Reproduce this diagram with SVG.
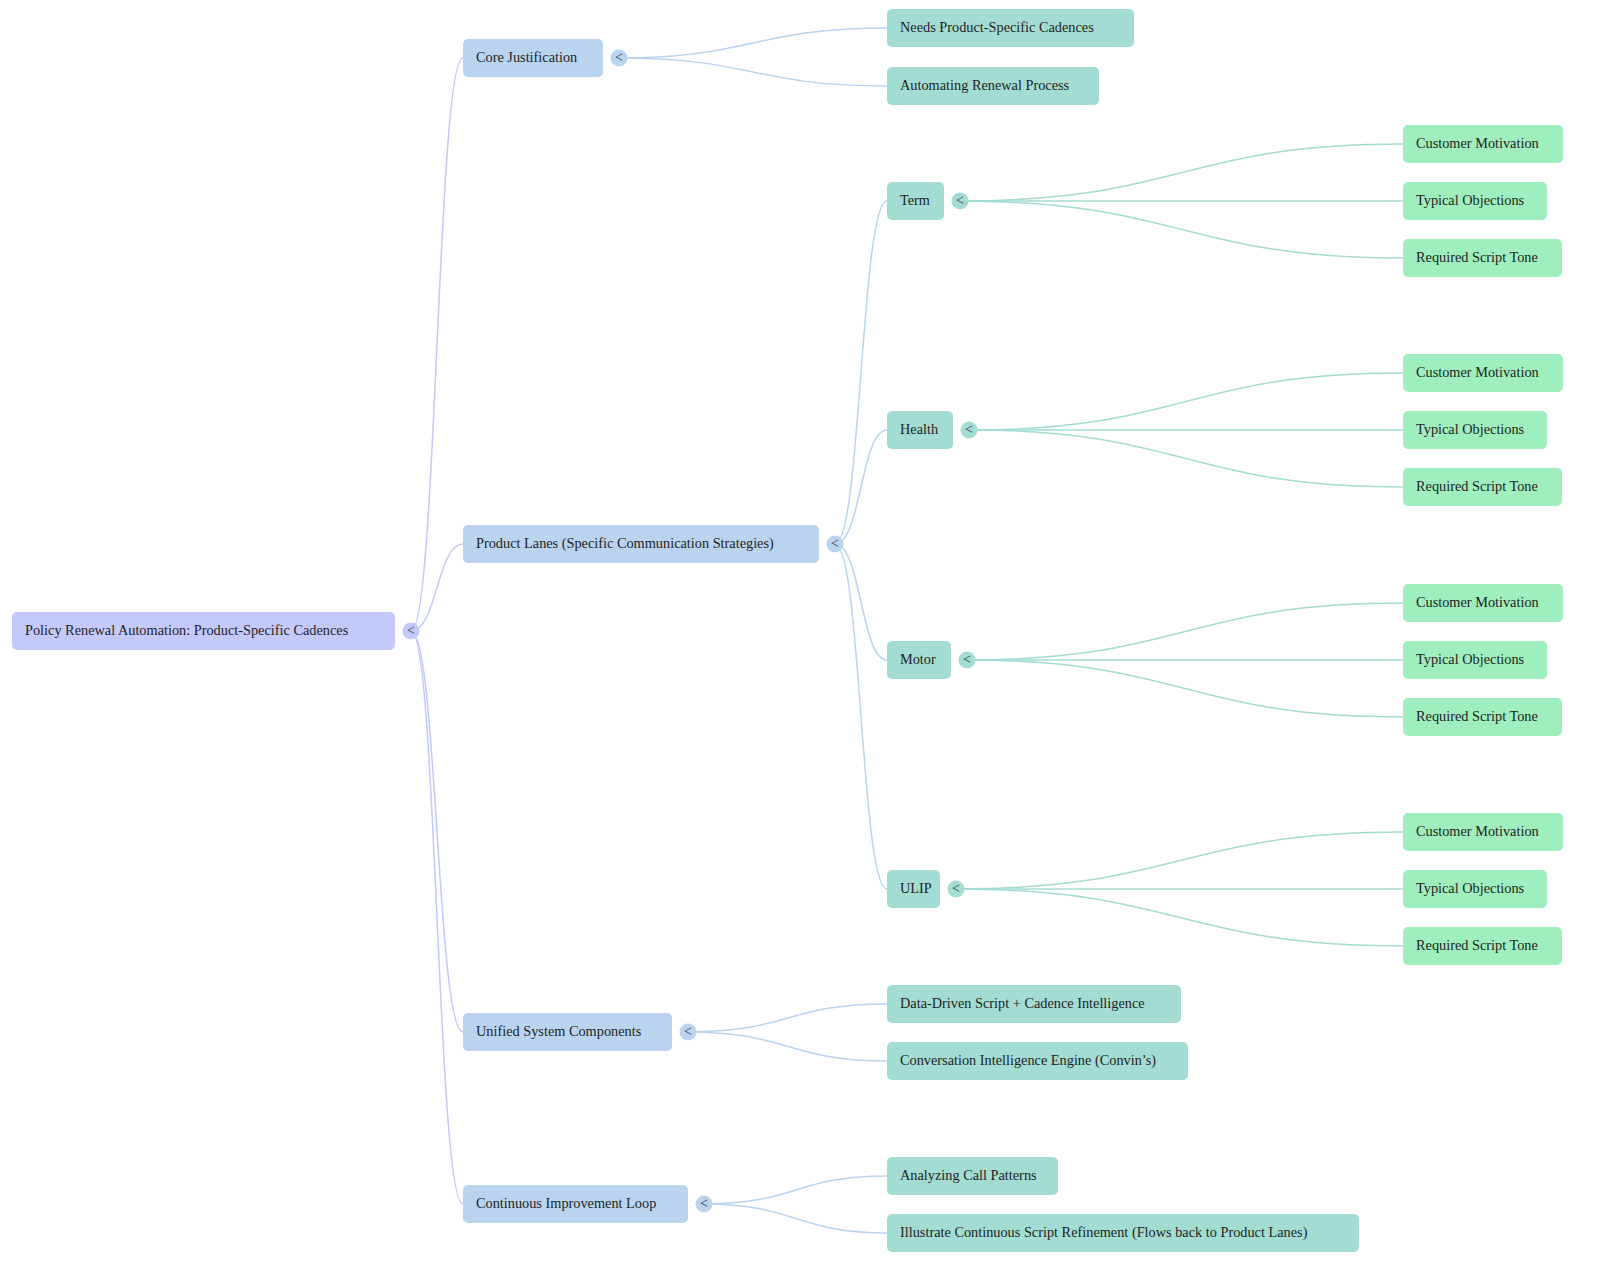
<svg xmlns="http://www.w3.org/2000/svg" width="1600" height="1262" viewBox="0 0 1600 1262">
<style>
  .t { font-family: "Liberation Serif", "Times New Roman", serif; font-size: 14.3px; fill: #1f1f1f; }
  .tg { font-family: "Liberation Serif", "Times New Roman", serif; font-size: 14px; fill: #333; text-anchor: middle; }
  .r0 { fill: #c4c9fc; }
  .r1 { fill: #bad4f0; }
  .r2 { fill: #a3dcd2; }
  .r3 { fill: #9eeebe; }
  .c0 { fill: none; stroke: #c4c9fc; stroke-width: 1.5; }
  .c1 { fill: none; stroke: #bad4f0; stroke-width: 1.5; }
  .c2 { fill: none; stroke: #a3dcd2; stroke-width: 1.5; }
</style>
<rect width="1600" height="1262" fill="#ffffff"/>

<g id="connectors">
  <path class="c0" d="M411,631 C437,631 437,58 463,58"/>
  <path class="c0" d="M411,631 C437,631 437,544 463,544"/>
  <path class="c0" d="M411,631 C437,631 437,1032 463,1032"/>
  <path class="c0" d="M411,631 C437,631 437,1204 463,1204"/>

  <path class="c1" d="M619,58 C753,58 753,28 887,28"/>
  <path class="c1" d="M619,58 C753,58 753,86 887,86"/>

  <path class="c1" d="M835,544 C861,544 861,201 887,201"/>
  <path class="c1" d="M835,544 C861,544 861,430 887,430"/>
  <path class="c1" d="M835,544 C861,544 861,660 887,660"/>
  <path class="c1" d="M835,544 C861,544 861,889 887,889"/>

  <path class="c1" d="M688,1032 C788,1032 788,1004 887,1004"/>
  <path class="c1" d="M688,1032 C788,1032 788,1061 887,1061"/>

  <path class="c1" d="M704,1204 C796,1204 796,1176 887,1176"/>
  <path class="c1" d="M704,1204 C796,1204 796,1233 887,1233"/>

  <path class="c2" d="M960,201 C1182,201 1182,144 1403,144"/>
  <path class="c2" d="M960,201 L1403,201"/>
  <path class="c2" d="M960,201 C1182,201 1182,258 1403,258"/>

  <path class="c2" d="M969,430 C1186,430 1186,373 1403,373"/>
  <path class="c2" d="M969,430 L1403,430"/>
  <path class="c2" d="M969,430 C1186,430 1186,487 1403,487"/>

  <path class="c2" d="M967,660 C1185,660 1185,603 1403,603"/>
  <path class="c2" d="M967,660 L1403,660"/>
  <path class="c2" d="M967,660 C1185,660 1185,717 1403,717"/>

  <path class="c2" d="M956,889 C1180,889 1180,832 1403,832"/>
  <path class="c2" d="M956,889 L1403,889"/>
  <path class="c2" d="M956,889 C1180,889 1180,946 1403,946"/>
</g>

<g id="root">
  <rect class="r0" x="12" y="612" width="383" height="38" rx="5"/>
  <text class="t" x="25" y="634.5">Policy Renewal Automation: Product-Specific Cadences</text>
  <circle class="r0" cx="411" cy="631" r="8.5"/>
  <text class="tg" x="411" y="635">&lt;</text>
</g>

<g id="core-justification">
  <rect class="r1" x="463" y="39" width="140" height="38" rx="5"/>
  <text class="t" x="476" y="61.5">Core Justification</text>
  <circle class="r1" cx="619" cy="58" r="8.5"/>
  <text class="tg" x="619" y="62">&lt;</text>
</g>
<g id="needs-cadences">
  <rect class="r2" x="887" y="9" width="247" height="38" rx="5"/>
  <text class="t" x="900" y="31.5">Needs Product-Specific Cadences</text>
</g>
<g id="automating-renewal">
  <rect class="r2" x="887" y="67" width="212" height="38" rx="5"/>
  <text class="t" x="900" y="89.5">Automating Renewal Process</text>
</g>

<g id="product-lanes">
  <rect class="r1" x="463" y="525" width="356" height="38" rx="5"/>
  <text class="t" x="476" y="547.5">Product Lanes (Specific Communication Strategies)</text>
  <circle class="r1" cx="835" cy="544" r="8.5"/>
  <text class="tg" x="835" y="548">&lt;</text>
</g>

<g id="term">
  <rect class="r2" x="887" y="182" width="57" height="38" rx="5"/>
  <text class="t" x="900" y="204.5">Term</text>
  <circle class="r2" cx="960" cy="201" r="8.5"/>
  <text class="tg" x="960" y="205">&lt;</text>
</g>
<g id="term-motivation">
  <rect class="r3" x="1403" y="125" width="160" height="38" rx="5"/>
  <text class="t" x="1416" y="147.5">Customer Motivation</text>
</g>
<g id="term-objections">
  <rect class="r3" x="1403" y="182" width="144" height="38" rx="5"/>
  <text class="t" x="1416" y="204.5">Typical Objections</text>
</g>
<g id="term-tone">
  <rect class="r3" x="1403" y="239" width="159" height="38" rx="5"/>
  <text class="t" x="1416" y="261.5">Required Script Tone</text>
</g>

<g id="health">
  <rect class="r2" x="887" y="411" width="66" height="38" rx="5"/>
  <text class="t" x="900" y="433.5">Health</text>
  <circle class="r2" cx="969" cy="430" r="8.5"/>
  <text class="tg" x="969" y="434">&lt;</text>
</g>
<g id="health-motivation">
  <rect class="r3" x="1403" y="354" width="160" height="38" rx="5"/>
  <text class="t" x="1416" y="376.5">Customer Motivation</text>
</g>
<g id="health-objections">
  <rect class="r3" x="1403" y="411" width="144" height="38" rx="5"/>
  <text class="t" x="1416" y="433.5">Typical Objections</text>
</g>
<g id="health-tone">
  <rect class="r3" x="1403" y="468" width="159" height="38" rx="5"/>
  <text class="t" x="1416" y="490.5">Required Script Tone</text>
</g>

<g id="motor">
  <rect class="r2" x="887" y="641" width="64" height="38" rx="5"/>
  <text class="t" x="900" y="663.5">Motor</text>
  <circle class="r2" cx="967" cy="660" r="8.5"/>
  <text class="tg" x="967" y="664">&lt;</text>
</g>
<g id="motor-motivation">
  <rect class="r3" x="1403" y="584" width="160" height="38" rx="5"/>
  <text class="t" x="1416" y="606.5">Customer Motivation</text>
</g>
<g id="motor-objections">
  <rect class="r3" x="1403" y="641" width="144" height="38" rx="5"/>
  <text class="t" x="1416" y="663.5">Typical Objections</text>
</g>
<g id="motor-tone">
  <rect class="r3" x="1403" y="698" width="159" height="38" rx="5"/>
  <text class="t" x="1416" y="720.5">Required Script Tone</text>
</g>

<g id="ulip">
  <rect class="r2" x="887" y="870" width="53" height="38" rx="5"/>
  <text class="t" x="900" y="892.5">ULIP</text>
  <circle class="r2" cx="956" cy="889" r="8.5"/>
  <text class="tg" x="956" y="893">&lt;</text>
</g>
<g id="ulip-motivation">
  <rect class="r3" x="1403" y="813" width="160" height="38" rx="5"/>
  <text class="t" x="1416" y="835.5">Customer Motivation</text>
</g>
<g id="ulip-objections">
  <rect class="r3" x="1403" y="870" width="144" height="38" rx="5"/>
  <text class="t" x="1416" y="892.5">Typical Objections</text>
</g>
<g id="ulip-tone">
  <rect class="r3" x="1403" y="927" width="159" height="38" rx="5"/>
  <text class="t" x="1416" y="949.5">Required Script Tone</text>
</g>

<g id="unified-system">
  <rect class="r1" x="463" y="1013" width="209" height="38" rx="5"/>
  <text class="t" x="476" y="1035.5">Unified System Components</text>
  <circle class="r1" cx="688" cy="1032" r="8.5"/>
  <text class="tg" x="688" y="1036">&lt;</text>
</g>
<g id="data-driven">
  <rect class="r2" x="887" y="985" width="294" height="38" rx="5"/>
  <text class="t" x="900" y="1007.5">Data-Driven Script + Cadence Intelligence</text>
</g>
<g id="conversation-engine">
  <rect class="r2" x="887" y="1042" width="301" height="38" rx="5"/>
  <text class="t" x="900" y="1064.5">Conversation Intelligence Engine (Convin’s)</text>
</g>

<g id="continuous-improvement">
  <rect class="r1" x="463" y="1185" width="225" height="38" rx="5"/>
  <text class="t" x="476" y="1207.5">Continuous Improvement Loop</text>
  <circle class="r1" cx="704" cy="1204" r="8.5"/>
  <text class="tg" x="704" y="1208">&lt;</text>
</g>
<g id="analyzing-calls">
  <rect class="r2" x="887" y="1157" width="171" height="38" rx="5"/>
  <text class="t" x="900" y="1179.5">Analyzing Call Patterns</text>
</g>
<g id="illustrate-refinement">
  <rect class="r2" x="887" y="1214" width="472" height="38" rx="5"/>
  <text class="t" x="900" y="1236.5">Illustrate Continuous Script Refinement (Flows back to Product Lanes)</text>
</g>
</svg>
